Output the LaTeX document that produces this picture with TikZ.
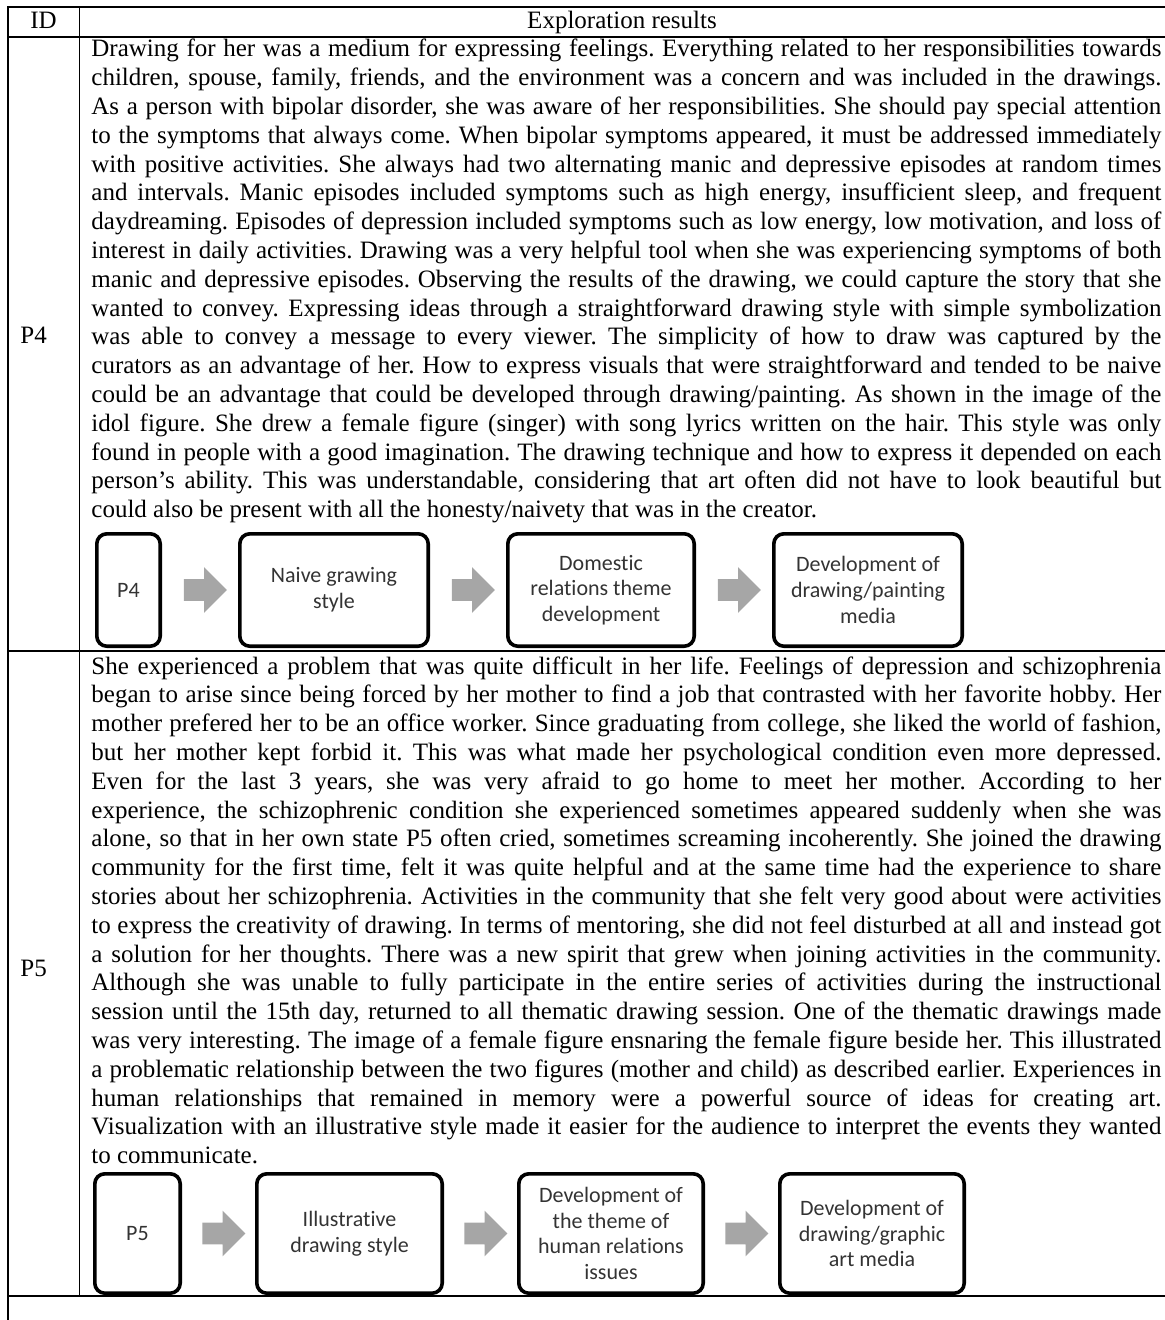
\documentclass[tikz,border=0pt]{standalone}
\usepackage{fontspec}
\setmainfont{Liberation Serif}
\newfontfamily\boxfamily[Ligatures=NoCommon]{Carlito}
\usetikzlibrary{positioning, calc, shapes.arrows}
\definecolor{arrowgray}{HTML}{A6A6A6}
\definecolor{boxtext}{HTML}{333333}
\newcommand{\bodyfont}{\fontsize{12.5}{14.4}\selectfont\frenchspacing}
\newcommand{\boxfont}{\boxfamily\fontsize{11}{12.8}\selectfont}
\newcommand{\fullline}[1]{\hbox to 535pt{#1}}

\begin{document}
\begin{tikzpicture}[x=0.5pt, y=-0.5pt,
    tableline/.style={line width=1pt},
    bodytext/.style={anchor=base west, inner sep=0pt, font=\bodyfont},
    stepbox/.style={draw, line width=1.8pt, rounded corners=5pt, align=center,
      inner sep=0pt, font=\boxfont, text=boxtext},
    blockarrow/.style={single arrow, fill=arrowgray, inner sep=5.25pt,
      minimum height=21.5pt, minimum width=22.5pt, single arrow head extend=6pt}]
    \useasboundingbox (0,0) rectangle (1165,1320);
    % Tabellenrahmen
    \draw[tableline] (8,7) -- (1165,7);
    \draw[tableline] (8,37) -- (1165,37);
    \draw[tableline] (8,650.5) -- (1165,650.5);
    \draw[tableline] (8,1296) -- (1165,1296);
    \draw[line width=0.8pt] (8,6.5) -- (8,1320);
    \draw[line width=0.5pt] (79,7) -- (79,1296);
    % Kopfzeile
    \node[font=\bodyfont, anchor=base] (idhead) at (43.5,29) {ID};
    \node[font=\bodyfont, anchor=base] (reshead) at (622,29) {Exploration results};
    % Zeile P4
    \node[bodytext] (p4id) at (20,344) {P4};
    \node[bodytext] (p4txt) at (91,57) {\vtop{%
      \fullline{Drawing for her was a medium for expressing feelings. Everything related to her responsibilities towards}
      \fullline{children, spouse, family, friends, and the environment was a concern and was included in the drawings.}
      \fullline{As a person with bipolar disorder, she was aware of her responsibilities. She should pay special attention}
      \fullline{to the symptoms that always come. When bipolar symptoms appeared, it must be addressed immediately}
      \fullline{with positive activities. She always had two alternating manic and depressive episodes at random times}
      \fullline{and intervals. Manic episodes included symptoms such as high energy, insufficient sleep, and frequent}
      \fullline{daydreaming. Episodes of depression included symptoms such as low energy, low motivation, and loss of}
      \fullline{interest in daily activities. Drawing was a very helpful tool when she was experiencing symptoms of both}
      \fullline{manic and depressive episodes. Observing the results of the drawing, we could capture the story that she}
      \fullline{wanted to convey. Expressing ideas through a straightforward drawing style with simple symbolization}
      \fullline{was able to convey a message to every viewer. The simplicity of how to draw was captured by the}
      \fullline{curators as an advantage of her. How to express visuals that were straightforward and tended to be naive}
      \fullline{could be an advantage that could be developed through drawing/painting. As shown in the image of the}
      \fullline{idol figure. She drew a female figure (singer) with song lyrics written on the hair. This style was only}
      \fullline{found in people with a good imagination. The drawing technique and how to express it depended on each}
      \fullline{person's ability. This was understandable, considering that art often did not have to look beautiful but}
      \hbox{could also be present with all the honesty/naivety that was in the creator.}}};
    \node[stepbox, minimum width=31.7pt, minimum height=56.2pt] (p4a) at (128.5,590) {P4};
    \node[stepbox, minimum width=94.2pt, minimum height=56.2pt, right=38pt of p4a] (p4b) {Naive grawing\\style};
    \node[stepbox, minimum width=93.2pt, minimum height=56.2pt, right=38pt of p4b] (p4c) {Domestic\\relations theme\\development};
    \node[stepbox, minimum width=94.2pt, minimum height=56.2pt, right=38pt of p4c] (p4d) {Development of\\drawing/painting\\media};
    \node[blockarrow] (p4ab) at ($(p4a.east)!0.5!(p4b.west)$) {};
    \node[blockarrow] (p4bc) at ($(p4b.east)!0.5!(p4c.west)$) {};
    \node[blockarrow] (p4cd) at ($(p4c.east)!0.5!(p4d.west)$) {};
    % Zeile P5
    \node[bodytext] (p5id) at (20,976) {P5};
    \node[bodytext] (p5txt) at (91,674) {\vtop{%
      \fullline{She experienced a problem that was quite difficult in her life. Feelings of depression and schizophrenia}
      \fullline{began to arise since being forced by her mother to find a job that contrasted with her favorite hobby. Her}
      \fullline{mother prefered her to be an office worker. Since graduating from college, she liked the world of fashion,}
      \fullline{but her mother kept forbid it. This was what made her psychological condition even more depressed.}
      \fullline{Even for the last 3 years, she was very afraid to go home to meet her mother. According to her}
      \fullline{experience, the schizophrenic condition she experienced sometimes appeared suddenly when she was}
      \fullline{alone, so that in her own state P5 often cried, sometimes screaming incoherently. She joined the drawing}
      \fullline{community for the first time, felt it was quite helpful and at the same time had the experience to share}
      \fullline{stories about her schizophrenia. Activities in the community that she felt very good about were activities}
      \fullline{to express the creativity of drawing. In terms of mentoring, she did not feel disturbed at all and instead got}
      \fullline{a solution for her thoughts. There was a new spirit that grew when joining activities in the community.}
      \fullline{Although she was unable to fully participate in the entire series of activities during the instructional}
      \fullline{session until the 15th day, returned to all thematic drawing session. One of the thematic drawings made}
      \fullline{was very interesting. The image of a female figure ensnaring the female figure beside her. This illustrated}
      \fullline{a problematic relationship between the two figures (mother and child) as described earlier. Experiences in}
      \fullline{human relationships that remained in memory were a powerful source of ideas for creating art.}
      \fullline{Visualization with an illustrative style made it easier for the audience to interpret the events they wanted}
      \hbox{to communicate.}}};
    \node[stepbox, minimum width=42.7pt, minimum height=59.7pt] (p5a) at (137.5,1233.5) {P5};
    \node[stepbox, minimum width=92.7pt, minimum height=59.7pt, right=36.5pt of p5a] (p5b) {Illustrative\\drawing style};
    \node[stepbox, minimum width=92.2pt, minimum height=59.7pt, right=36.5pt of p5b] (p5c) {Development of\\the theme of\\human relations\\issues};
    \node[stepbox, minimum width=92.2pt, minimum height=59.7pt, right=36.5pt of p5c] (p5d) {Development of\\drawing/graphic\\art media};
    \node[blockarrow] (p5ab) at ($(p5a.east)!0.5!(p5b.west)$) {};
    \node[blockarrow] (p5bc) at ($(p5b.east)!0.5!(p5c.west)$) {};
    \node[blockarrow] (p5cd) at ($(p5c.east)!0.5!(p5d.west)$) {};
\end{tikzpicture}
\end{document}
